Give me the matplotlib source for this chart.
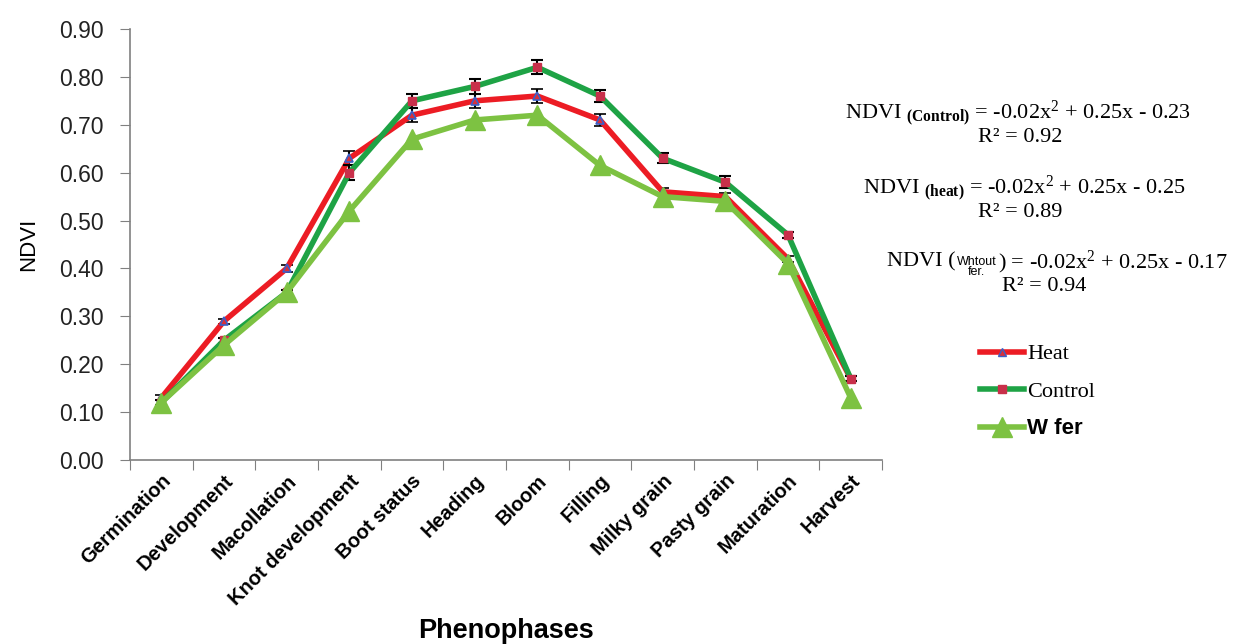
import numpy as np
import matplotlib
matplotlib.use("Agg")
import matplotlib.pyplot as plt
from matplotlib.lines import Line2D

# datos
phases = ["Germination", "Development", "Macollation", "Knot development", "Boot status",
          "Heading", "Bloom", "Filling", "Milky grain", "Pasty grain", "Maturation", "Harvest"]
heat = [0.13, 0.29, 0.40, 0.63, 0.72, 0.75, 0.76, 0.71, 0.56, 0.55, 0.42, 0.17]
heat_err = [0.005, 0.005, 0.007, 0.015, 0.015, 0.015, 0.015, 0.012, 0.008, 0.008, 0.006, 0.005]
control = [0.12, 0.25, 0.35, 0.60, 0.75, 0.78, 0.82, 0.76, 0.63, 0.58, 0.47, 0.17]
control_err = [0.005, 0.005, 0.005, 0.015, 0.015, 0.015, 0.015, 0.013, 0.01, 0.012, 0.007, 0.005]
wfer = [0.12, 0.24, 0.35, 0.52, 0.67, 0.71, 0.72, 0.615, 0.55, 0.54, 0.41, 0.13]

eq_control = r"NDVI $_{\mathbf{(Control)}}$ = -0.02x$^2$ + 0.25x - 0.23"
eq_heat = r"NDVI $_{\mathbf{(heat)}}$ = -0.02x$^2$ + 0.25x - 0.25"
eq_wfer = r") = -0.02x$^2$ + 0.25x - 0.17"
r2_vals = ["R² = 0.92", "R² = 0.89", "R² = 0.94"]

plt.rcParams["font.family"] = ["Liberation Sans", "DejaVu Sans"]
plt.rcParams["mathtext.fontset"] = "custom"
plt.rcParams["mathtext.rm"] = "Liberation Serif"
plt.rcParams["mathtext.bf"] = "Liberation Serif:bold"
plt.rcParams["mathtext.it"] = "Liberation Serif:italic"

fig = plt.figure(figsize=(12.43, 6.44), dpi=100)
ax = fig.add_axes([0.1046, 0.2857, 0.605, 0.6693])

x = np.arange(len(phases))

red = "#EC1C24"
dgreen = "#1EA345"
lgreen = "#7DC242"

# Heat: linea roja, triangulos azules
ax.errorbar(x, heat, yerr=heat_err, color=red, lw=4, marker="^", ms=6,
            mfc="#D8303A", mec="#3A5FC8", mew=1.2, ecolor="black", elinewidth=1.5,
            capsize=4, capthick=1.5, zorder=3)
# Control: verde oscuro, cuadrados rojos
ax.errorbar(x, control, yerr=control_err, color=dgreen, lw=4, marker="s", ms=6,
            mfc="#C8304A", mec="#C8304A", ecolor="black", elinewidth=1.5,
            capsize=4, capthick=1.5, zorder=4)
# Sin fertilizante
ax.plot(x, wfer, color=lgreen, lw=4, marker="^", ms=14, mfc=lgreen, mec=lgreen, zorder=5)

ax.set_xlim(-0.5, 11.5)
ax.set_ylim(0, 0.9)
yt = np.arange(0, 0.91, 0.1)
ax.set_yticks(yt)
ax.set_yticklabels([f"{v:.2f}" for v in yt], fontsize=16.5, color="#222222")

ax.set_xticks(np.arange(-0.5, 12, 1))
ax.set_xticklabels([])
ax.set_xticks(x, minor=True)
ax.set_xticklabels(phases, minor=True, rotation=45, ha="right", va="top",
                   rotation_mode="anchor", fontsize=14.5, fontweight="bold")
ax.tick_params(axis="x", which="minor", length=0, pad=8)
ax.tick_params(axis="both", which="major", length=7, color="#808080", direction="out")
ax.tick_params(axis="y", pad=12)

for s in ["top", "right"]:
    ax.spines[s].set_visible(False)
for s in ["left", "bottom"]:
    ax.spines[s].set_color("#808080")
    ax.spines[s].set_linewidth(1.2)

fig.text(0.023, 0.62, "NDVI", rotation=90, ha="center", va="center", fontsize=16)
fig.text(0.407, 0.0, "Phenophases", ha="center", va="bottom", fontsize=19.5, fontweight="bold")

# ecuaciones
fs = 16
fig.text(0.68, 0.825, eq_control, fontsize=fs, family="Liberation Serif", va="center")
fig.text(0.821, 0.787, r2_vals[0], fontsize=fs, family="Liberation Serif", va="center", ha="center")
fig.text(0.694, 0.708, eq_heat, fontsize=fs, family="Liberation Serif", va="center")
fig.text(0.821, 0.670, r2_vals[1], fontsize=fs, family="Liberation Serif", va="center", ha="center")

# tercera ecuacion con subindice en dos lineas
renderer = fig.canvas.get_renderer()
t1 = fig.text(0.7136, 0.593, "NDVI (", fontsize=fs, family="Liberation Serif", va="center")
x_end = t1.get_window_extent(renderer).x1 / fig.bbox.width
t2 = fig.text(x_end + 0.001, 0.586, "Whtout\nfer.", fontsize=9, family="Liberation Sans",
              va="center", ha="left", linespacing=0.8, multialignment="center")
x_end = t2.get_window_extent(renderer).x1 / fig.bbox.width
fig.text(x_end + 0.001, 0.593, eq_wfer, fontsize=fs, family="Liberation Serif", va="center")
fig.text(0.84, 0.555, r2_vals[2], fontsize=fs, family="Liberation Serif", va="center", ha="center")

handles = [
    Line2D([], [], color=red, lw=4, marker="^", ms=6, mfc="#D8303A", mec="#3A5FC8"),
    Line2D([], [], color=dgreen, lw=4, marker="s", ms=6, mfc="#C8304A", mec="#C8304A"),
    Line2D([], [], color=lgreen, lw=4, marker="^", ms=14, mfc=lgreen, mec=lgreen),
]
leg = fig.legend(handles, ["Heat", "Control", "W fer"], loc="upper left",
                 bbox_to_anchor=(0.772, 0.497), frameon=False, handlelength=2.0,
                 handletextpad=0.15, labelspacing=0.75,
                 prop={"family": "Liberation Serif", "size": 16})
leg.get_texts()[2].set_family("Liberation Sans")
leg.get_texts()[2].set_fontweight("bold")

fig.savefig("out.png", dpi=100)
